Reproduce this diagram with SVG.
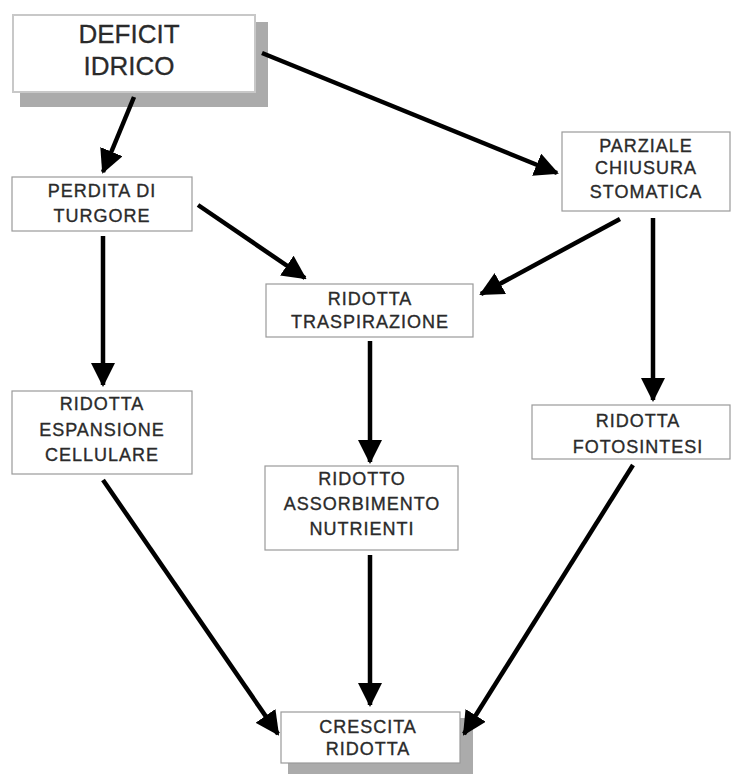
<svg xmlns="http://www.w3.org/2000/svg" width="731" height="774" viewBox="0 0 731 774">
<style>
.box{fill:#fff;stroke:#9a9a9a;stroke-width:1.2}
.shadow{fill:#ababab}
.t{font-family:"Liberation Sans",Arial,sans-serif;font-size:18px;fill:#2a2a2a;stroke:#2a2a2a;stroke-width:0.35;text-anchor:middle;letter-spacing:1px}
.big{font-size:26px;letter-spacing:0;stroke-width:0.3}
.c line{stroke:#000;stroke-width:4.5;marker-end:url(#ah)}
</style>
<defs>
<marker id="ah" viewBox="0 0 24 24" refX="22" refY="12" markerWidth="24" markerHeight="24" markerUnits="userSpaceOnUse" orient="auto">
<path d="M0,0 L24,12 L0,24 z" fill="#000"/>
</marker>
</defs>
<rect width="731" height="774" fill="#fff"/>
<g id="deficit">
<rect class="shadow" x="20" y="22" width="248" height="85"/>
<rect class="box" x="13" y="15" width="242" height="77" style="stroke:#c8c8c8;stroke-width:2"/>
<text class="t big" x="129" y="43">DEFICIT</text>
<text class="t big" x="129" y="75">IDRICO</text>
</g>
<g id="perdita">
<rect class="box" x="12" y="177" width="180" height="54"/>
<text class="t" x="102" y="197">PERDITA DI</text>
<text class="t" x="102" y="222">TURGORE</text>
</g>
<g id="parziale">
<rect class="box" x="562" y="132" width="168" height="79"/>
<text class="t" x="646" y="152">PARZIALE</text>
<text class="t" x="646" y="174">CHIUSURA</text>
<text class="t" x="646" y="198">STOMATICA</text>
</g>
<g id="traspirazione">
<rect class="box" x="266" y="284" width="207" height="53"/>
<text class="t" x="370" y="305">RIDOTTA</text>
<text class="t" x="370" y="328">TRASPIRAZIONE</text>
</g>
<g id="espansione">
<rect class="box" x="12" y="391" width="180" height="83"/>
<text class="t" x="102" y="410">RIDOTTA</text>
<text class="t" x="102" y="436">ESPANSIONE</text>
<text class="t" x="102" y="461">CELLULARE</text>
</g>
<g id="assorbimento">
<rect class="box" x="265" y="466" width="193" height="84"/>
<text class="t" x="362" y="485">RIDOTTO</text>
<text class="t" x="362" y="510">ASSORBIMENTO</text>
<text class="t" x="362" y="535">NUTRIENTI</text>
</g>
<g id="fotosintesi">
<rect class="box" x="532" y="405" width="198" height="54"/>
<text class="t" x="638" y="427">RIDOTTA</text>
<text class="t" x="638" y="453">FOTOSINTESI</text>
</g>
<g id="crescita">
<rect class="shadow" x="288" y="718" width="185" height="56"/>
<rect class="box" x="281" y="712" width="179" height="51"/>
<text class="t" x="368" y="733">CRESCITA</text>
<text class="t" x="368" y="755">RIDOTTA</text>
</g>
<g class="c" id="connectors">
<line x1="134" y1="97" x2="103" y2="172"/>
<line x1="262" y1="53" x2="557" y2="173"/>
<line x1="198" y1="205" x2="305" y2="278"/>
<line x1="620" y1="219" x2="481" y2="294"/>
<line x1="103" y1="236" x2="103" y2="385"/>
<line x1="370" y1="341" x2="370" y2="462"/>
<line x1="653" y1="218" x2="653" y2="400"/>
<line x1="103" y1="480" x2="278" y2="734"/>
<line x1="370" y1="555" x2="370" y2="705"/>
<line x1="633" y1="465" x2="464" y2="734"/>
</g>
</svg>
